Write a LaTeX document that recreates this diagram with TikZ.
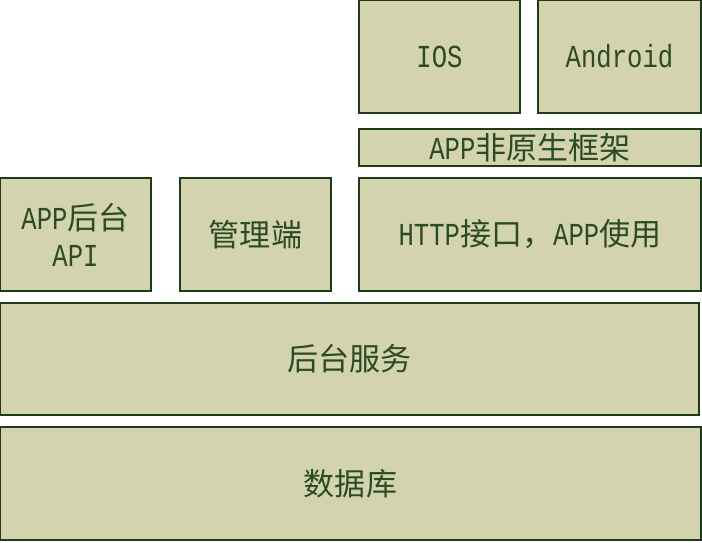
\documentclass[tikz,border=0pt]{standalone}
\usepackage{fontspec}
\setmainfont[FakeStretch=0.8]{Liberation Mono}
\newfontfamily\cjk[Scale=0.97]{Noto Sans CJK SC}
\definecolor{layerfill}{HTML}{D3D3AD}
\definecolor{layerline}{HTML}{1F3A1A}
\definecolor{layertext}{HTML}{2B4A25}

\tikzset{
	layer/.style={draw=layerline, fill=layerfill, line width=1.5pt, text=layertext,
		inner sep=0pt, outer sep=0pt, align=center,
		font=\fontsize{32}{37}\selectfont}
}

\begin{document}
\begin{tikzpicture}[x=1pt,y=-1pt]
	\useasboundingbox (0,0) rectangle (702,542);
	% client side
	\node[layer, minimum width=161pt, minimum height=113pt] (ios) at (439.5,56.5) {IOS};
	\node[layer, minimum width=163pt, minimum height=113pt] (android) at (619.5,56.5) {Android};
	\node[layer, minimum width=342pt, minimum height=37pt] (hybrid) at (530,147.5) {APP{\cjk 非原生框架}};
	% interfaces
	\node[layer, minimum width=151pt, minimum height=113pt] (appapi) at (75.5,234.5) {APP{\cjk 后台}\\API};
	\node[layer, minimum width=151pt, minimum height=113pt] (admin) at (255.5,234.5) {{\cjk 管理端}};
	\node[layer, minimum width=342pt, minimum height=113pt] (http) at (530,234.5) {HTTP{\cjk 接口，}APP{\cjk 使用}};
	% server side
	\node[layer, minimum width=699pt, minimum height=112pt] (backend) at (349.5,359) {{\cjk 后台服务}};
	\node[layer, minimum width=701pt, minimum height=113pt] (db) at (350.5,483.5) {{\cjk 数据库}};
\end{tikzpicture}
\end{document}
